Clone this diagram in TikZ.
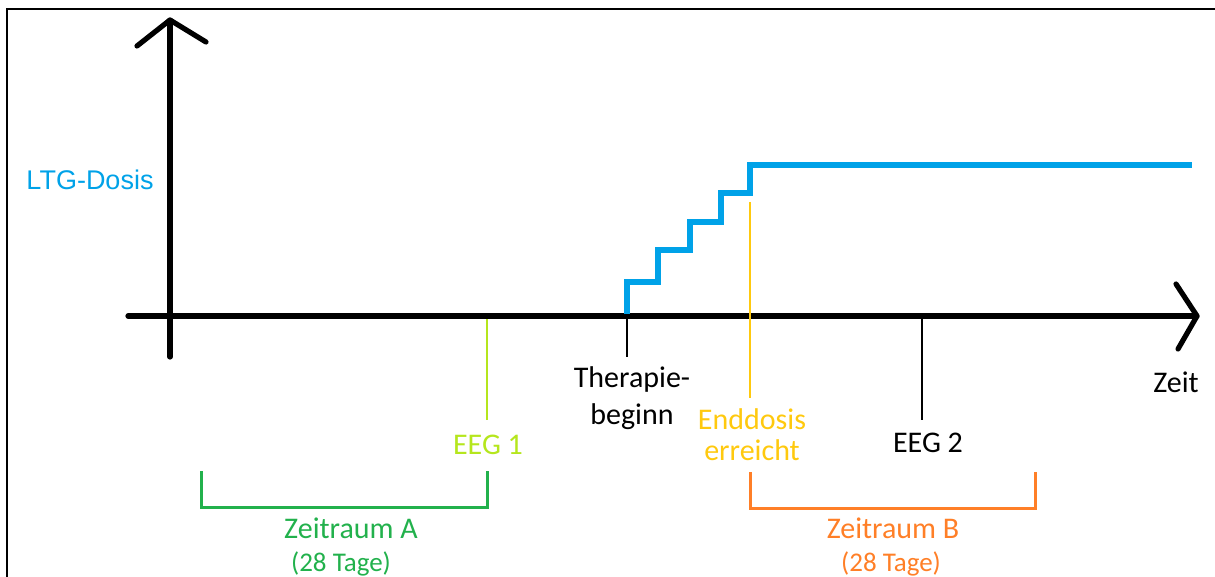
\documentclass[tikz,border=0pt]{standalone}
\usepackage{fontspec}
\setmainfont{Carlito}
\newfontfamily\arialfont{Liberation Sans}
\definecolor{dosisblau}{HTML}{00A2E8}
\definecolor{endgelb}{HTML}{FFC90E}
\definecolor{eeglime}{HTML}{B5E61D}
\definecolor{zeitgruen}{HTML}{22B14C}
\definecolor{zeitorange}{HTML}{FF7F27}
\tikzset{
  achse/.style={line width=2.6pt, line cap=round, line join=round},
  dosis/.style={line width=2.8pt, color=dosisblau},
  strich/.style={line width=1.4pt},
  klammer/.style={line width=1.5pt},
  beschr/.style={inner sep=0pt, font=\fontsize{15}{18.5}\selectfont}
}
\begin{document}
\begin{tikzpicture}[x=0.5pt, y=-0.5pt]
	\useasboundingbox (0,0) rectangle (1215,577);
	\draw[line width=1pt](7,577) -- (7,9) -- (1215,9);%Rahmen
	% Achsen
	\coordinate (xa) at (128,316); \coordinate (xe) at (1197,316);
	\coordinate (ya) at (170,357); \coordinate (ye) at (170,20);
	\draw[achse](xa) -- (xe);
	\draw[achse](1176,284) -- (xe) -- (1178,349);
	\draw[achse](ya) -- (ye);
	\draw[achse](137,46) -- (ye) -- (206,42);
	\node[beschr] (zeit) at (1176,382) {Zeit};
	\node[beschr, font=\arialfont\fontsize{13.5}{16}\selectfont, color=dosisblau] (ltg) at (90,180) {LTG-Dosis};
	% Dosis
	\draw[dosis](627,314) -- (627,282) -- (658,282) -- (658,250) -- (690,250) -- (690,222)
		-- (721,222) -- (721,193) -- (750,193) -- (750,165) -- (1192,165);
	% Zeitpunkte
	\node[beschr, align=center] (thb) at (632,398) {Therapie-\\beginn};
	\draw[strich](627,318) -- (627,357);
	\node[beschr, align=center, color=endgelb, font=\fontsize{15}{15.5}\selectfont] (end) at (752,435) {Enddosis\\erreicht};
	\draw[strich, color=endgelb](750,202) -- (750,398);
	\node[beschr, color=eeglime] (eeg1) at (488,445) {EEG 1};
	\draw[strich, color=eeglime](487,319) -- (487,420);
	\node[beschr] (eeg2) at (928,443) {EEG 2};
	\draw[strich](922,319) -- (922,420);
	% Zeitraeume
	\draw[klammer, color=zeitgruen](201,471) -- (201,507) -- (487,507) -- (487,471);
	\node[beschr, color=zeitgruen] (zra) at (351,528) {Zeitraum A};
	\node[beschr, color=zeitgruen, font=\fontsize{13.5}{16}\selectfont] (ta) at (341,564) {(28 Tage)};
	\draw[klammer, color=zeitorange](750,472) -- (750,508) -- (1035,508) -- (1035,472);
	\node[beschr, color=zeitorange] (zrb) at (893,528) {Zeitraum B};
	\node[beschr, color=zeitorange, font=\fontsize{13.5}{16}\selectfont] (tb) at (891,564) {(28 Tage)};
\end{tikzpicture}
\end{document}
